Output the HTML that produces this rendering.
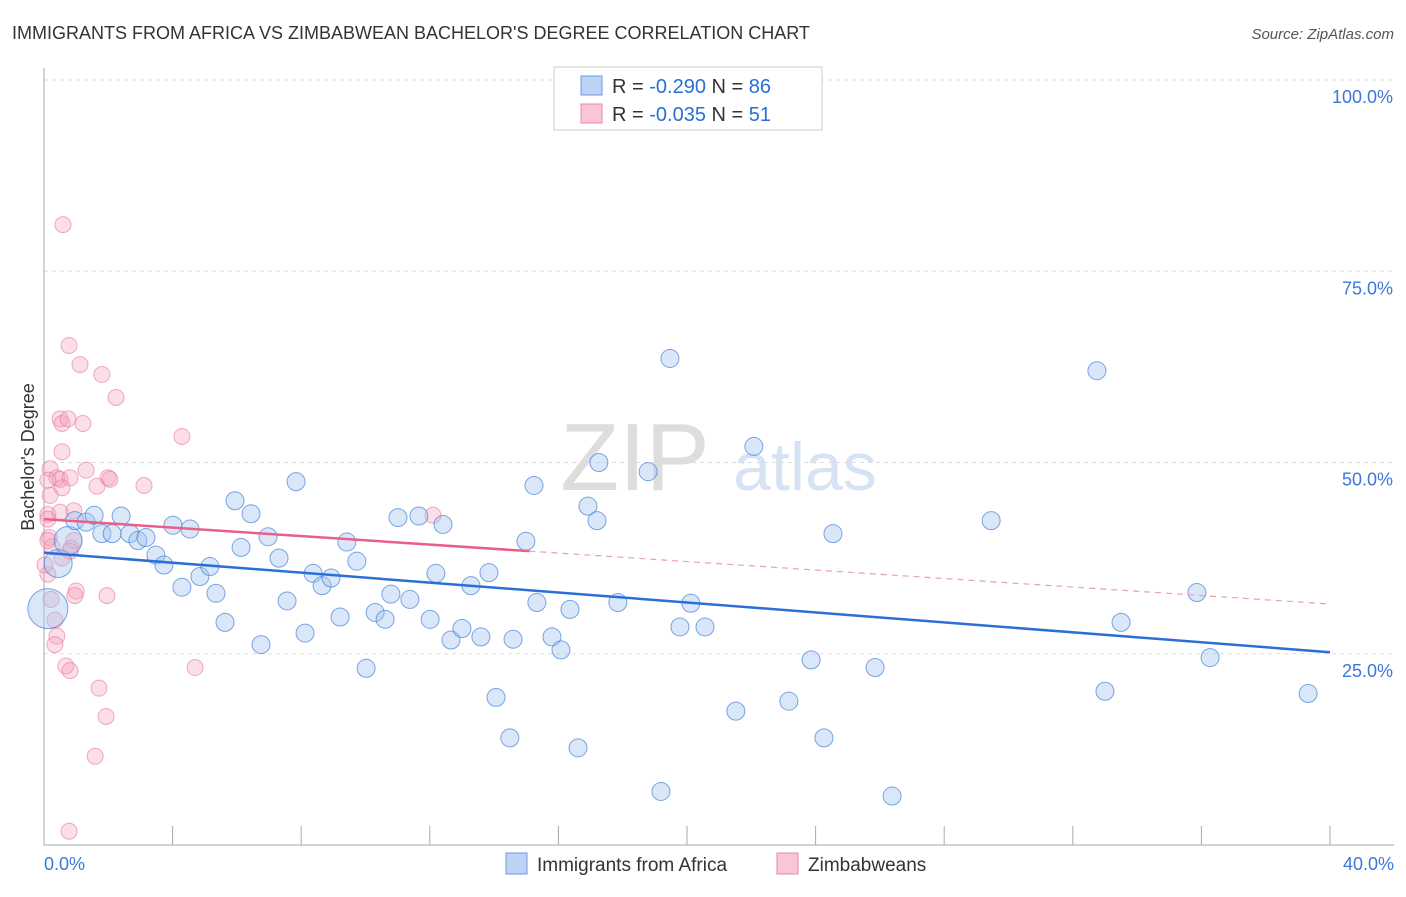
<!DOCTYPE html>
<html><head><meta charset="utf-8"><style>
body{margin:0;background:#fff;font-family:"Liberation Sans",sans-serif;}
svg text{font-family:"Liberation Sans",sans-serif;}
</style></head><body>
<svg id="chart" width="1406" height="892" xmlns="http://www.w3.org/2000/svg">
<text x="12" y="39" font-size="18" fill="#333">IMMIGRANTS FROM AFRICA VS ZIMBABWEAN BACHELOR'S DEGREE CORRELATION CHART</text>
<text x="1394" y="39" font-size="15" fill="#555" font-style="italic" text-anchor="end">Source: ZipAtlas.com</text>
<g><text x="635" y="490" font-size="96" fill="#ddd" font-family="Liberation Serif" text-anchor="middle">ZIP</text><text x="805" y="490" font-size="68" fill="#d6e3f3" text-anchor="middle">atlas</text></g>
<g id="grid"></g><g id="axes"></g><g id="pink"></g><g id="blue"></g><g id="lines"></g>
<text transform="translate(34,457) rotate(-90)" font-size="18" fill="#333" text-anchor="middle">Bachelor's Degree</text>
<g>
<rect x="554" y="67" width="268" height="63" fill="#fff" stroke="#ccc"/>
<rect x="581" y="76" width="21" height="19" fill="#bcd3f3" stroke="#6c9be0"/>
<rect x="581" y="104" width="21" height="19" fill="#f8c6d4" stroke="#e98aa7"/>
<text x="612" y="93" font-size="20" fill="#333">R = <tspan fill="#2a6fd6">-0.290</tspan>   N = <tspan fill="#2a6fd6">86</tspan></text>
<text x="612" y="121" font-size="20" fill="#333">R = <tspan fill="#2a6fd6">-0.035</tspan>   N = <tspan fill="#2a6fd6"> 51</tspan></text>
</g>
<g>
<rect x="506" y="853" width="21" height="21" fill="#bcd3f3" stroke="#6c9be0"/>
<text x="537" y="871" font-size="19" fill="#333">Immigrants from Africa</text>
<rect x="777" y="853" width="21" height="21" fill="#f8c6d4" stroke="#e98aa7"/>
<text x="808" y="871" font-size="19" fill="#333">Zimbabweans</text>
</g>
</svg>
<script>
const blueX=[0.12,0.44,0.75,0.96,1.31,1.56,1.80,2.12,2.40,2.67,2.92,3.17,3.48,3.73,4.01,4.29,4.54,4.85,5.16,5.35,5.63,5.94,6.13,6.44,6.75,6.97,7.31,7.56,7.84,8.12,8.37,8.65,8.93,9.21,9.42,9.73,10.02,10.30,10.61,10.79,11.01,11.38,11.66,12.01,12.19,12.41,12.66,13.00,13.28,13.59,13.84,14.06,14.49,14.59,14.99,15.24,15.33,15.80,16.08,16.36,16.61,16.92,17.20,17.26,17.85,18.79,19.19,19.47,19.78,20.12,20.56,21.52,22.08,23.17,23.86,24.26,24.54,25.85,26.38,29.46,32.75,33.00,33.50,35.86,36.27,39.32];
const blueY=[30.9,36.8,39.8,42.4,42.2,43.1,40.7,40.7,43.0,40.7,39.8,40.2,37.9,36.6,41.8,33.7,41.3,35.1,36.4,32.9,29.1,45.0,38.9,43.3,26.2,40.3,37.5,31.9,47.5,27.7,35.5,33.9,34.9,29.8,39.6,37.1,23.1,30.4,29.5,32.8,42.8,32.1,43.0,29.5,35.5,41.9,26.8,28.3,33.9,27.2,35.6,19.3,14.0,26.9,39.7,47.0,31.7,27.2,25.5,30.8,12.7,44.3,42.4,50.0,31.7,48.8,7.0,63.6,28.5,31.6,28.5,17.5,52.1,18.8,24.2,14.0,40.7,23.2,6.4,42.4,62.0,20.1,29.1,33.0,24.5,19.8];
const blueR=[20,14,14,9,9,9,9,9,9,9,9,9,9,9,9,9,9,9,9,9,9,9,9,9,9,9,9,9,9,9,9,9,9,9,9,9,9,9,9,9,9,9,9,9,9,9,9,9,9,9,9,9,9,9,9,9,9,9,9,9,9,9,9,9,9,9,9,9,9,9,9,9,9,9,9,9,9,9,9,9,9,9,9,9,9,9];
const pinkX=[0.59,0.78,1.12,1.80,2.24,4.29,0.50,0.56,0.75,1.21,0.56,0.19,0.40,0.50,0.81,1.31,1.99,2.05,3.11,1.65,0.56,0.19,0.12,0.12,0.50,0.93,0.16,0.25,0.93,0.84,0.56,0.81,0.12,1.00,0.96,1.96,0.22,0.40,0.34,0.68,0.81,4.70,1.71,1.93,1.59,0.78,12.10,0.12,0.03,0.34,0.12];
const pinkY=[81.1,65.3,62.8,61.5,58.5,53.4,55.7,55.1,55.7,55.1,51.4,49.2,48.0,47.8,48.0,49.0,48.0,47.8,47.0,46.9,46.7,45.7,43.2,42.6,43.5,43.7,40.2,39.0,39.8,38.8,37.5,38.4,35.4,33.2,32.6,32.6,32.1,27.3,26.2,23.4,22.8,23.2,20.5,16.8,11.6,1.8,43.1,39.8,36.6,29.4,47.7];
const blueTrend=[38.2,25.2];
const pinkTrend=[42.6,31.5];
const pinkSolidEnd=15.1;
const yTicks=[25,50,75,100];
const xTickLabels=["0.0%","40.0%"];

const NS="http://www.w3.org/2000/svg";
const X0=44,X1=1330,Y0=845,Y100=80;
function sx(v){return X0+(v/40)*(X1-X0);}
function sy(v){return Y0-(v/100)*(Y0-Y100);}
function mk(tag,attrs,parent){const e=document.createElementNS(NS,tag);for(const k in attrs)e.setAttribute(k,attrs[k]);document.getElementById(parent).appendChild(e);return e;}

yTicks.forEach(t=>{
  const l=mk('line',{x1:X0,x2:1394,y1:sy(t),y2:sy(t),stroke:'#ddd','stroke-dasharray':'4,4'},'grid');
  
  
  const tx=mk('text',{x:1393,y:sy(t)+23,'font-size':18,fill:'#3b78d8','text-anchor':'end'},'axes');
  tx.textContent=t.toFixed(1)+'%';
  
  
});
let a=mk('line',{x1:X0,x2:X0,y1:68,y2:Y0,stroke:'#aaa'},'axes');


a=mk('line',{x1:X0,x2:1394,y1:Y0,y2:Y0,stroke:'#aaa'},'axes');


for(let v=4;v<=40;v+=4){
  const t=mk('line',{x1:sx(v),x2:sx(v),y1:826,y2:Y0,stroke:'#aaa'},'axes');
  
  
}
[[0,'start',X0],[1,'end',1394]].forEach(([i,anc,x])=>{
  const t=mk('text',{x:x,y:870,'font-size':18,fill:'#3b78d8','text-anchor':anc},'axes');
  t.textContent=xTickLabels[i];
  
  
});
pinkX.forEach((v,i)=>{
  const c=mk('circle',{cx:sx(v),cy:sy(pinkY[i]),r:8,fill:'rgba(244,160,185,0.35)',stroke:'rgba(232,120,155,0.6)'},'pink');
  
  
});
blueX.forEach((v,i)=>{
  const c=mk('circle',{cx:sx(v),cy:sy(blueY[i]),r:blueR[i],fill:'rgba(160,195,240,0.4)',stroke:'rgba(70,130,215,0.7)'},'blue');
  
  
});
let l=mk('line',{x1:sx(0),y1:sy(blueTrend[0]),x2:sx(40),y2:sy(blueTrend[1]),stroke:'#2a6fd6','stroke-width':2.5},'lines');


const pe=pinkTrend[0]+(pinkTrend[1]-pinkTrend[0])*pinkSolidEnd/40;
l=mk('line',{x1:sx(0),y1:sy(pinkTrend[0]),x2:sx(pinkSolidEnd),y2:sy(pe),stroke:'#e8608a','stroke-width':2.5},'lines');


l=mk('line',{x1:sx(pinkSolidEnd),y1:sy(pe),x2:sx(40),y2:sy(pinkTrend[1]),stroke:'#e8a0b5','stroke-width':1.2,'stroke-dasharray':'6,5'},'lines');


</script>
</body></html>
